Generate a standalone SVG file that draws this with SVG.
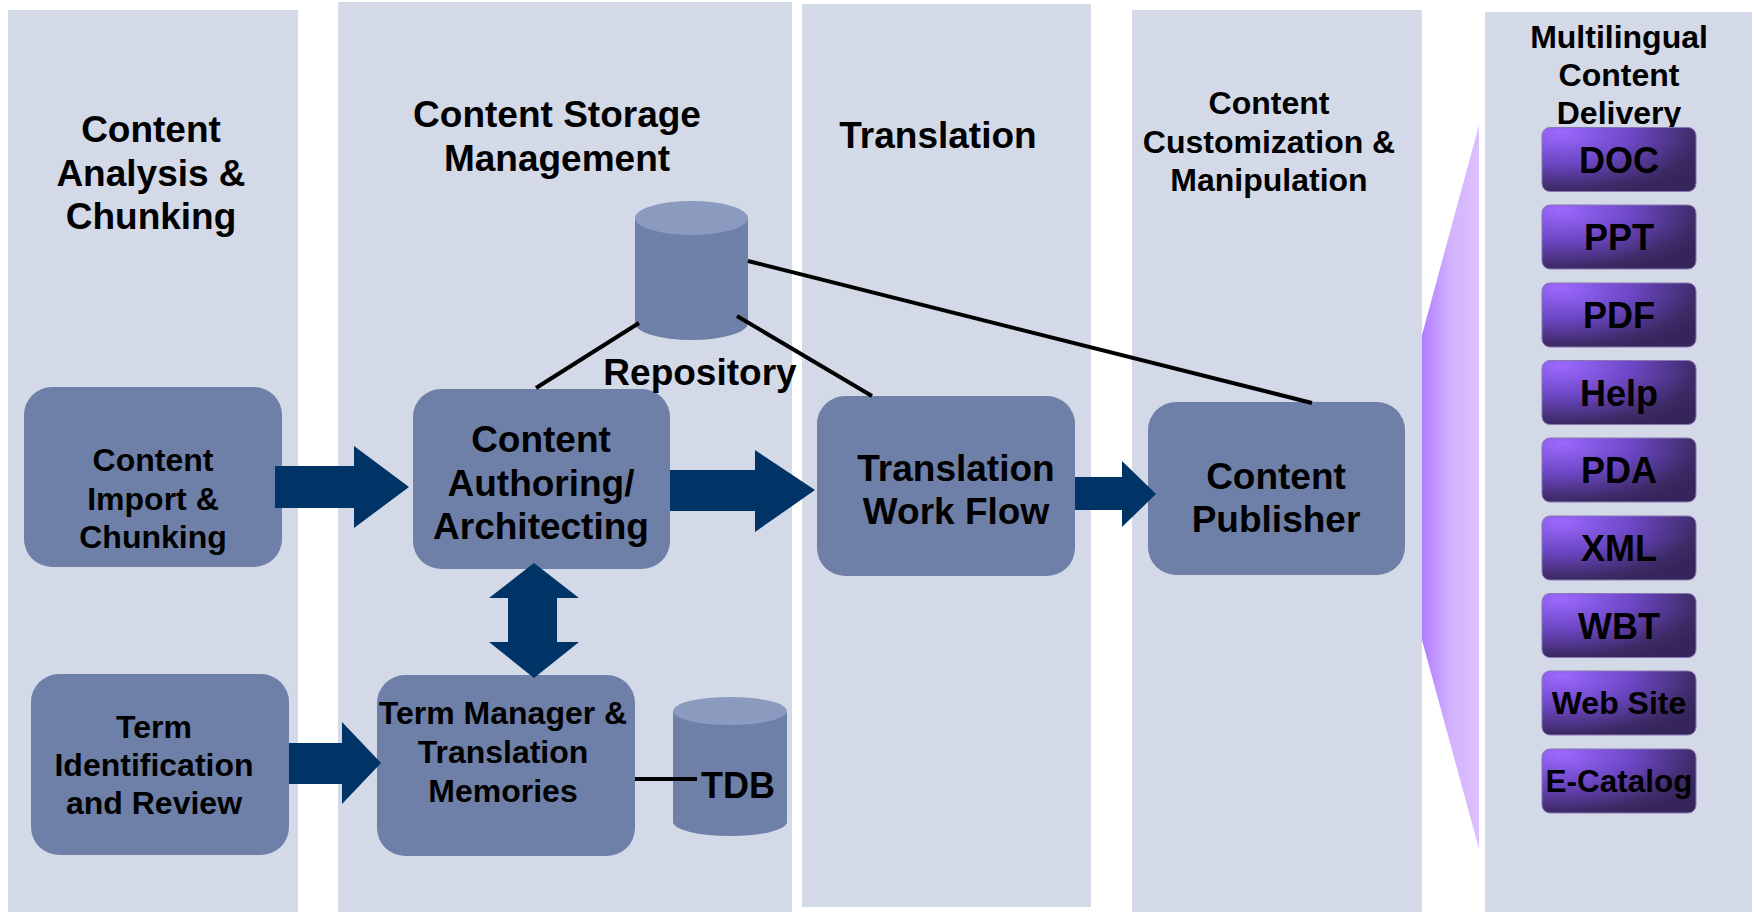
<svg xmlns="http://www.w3.org/2000/svg" width="1754" height="912" viewBox="0 0 1754 912">
  <defs>
    <style>
      .lane { fill: #D3D9E7; }
      .box { fill: #6E80A8; }
      .cap { fill: #8A9BBF; }
      .t { font-family: "Liberation Sans", Arial, sans-serif; font-weight: bold; fill: #000; text-anchor: middle; }
      .f37 { font-size: 37px; }
      .f36 { font-size: 36px; }
      .f32 { font-size: 32px; }
      .blk { fill: #003366; }
      .link { stroke: #000; stroke-width: 4; fill: none; }
      .btn { fill: url(#btnGrad); stroke: #8877B2; stroke-width: 1; }
    </style>
    <linearGradient id="fanGrad" x1="0" y1="0" x2="1" y2="0">
      <stop offset="0" stop-color="#B07AFF"/>
      <stop offset="0.5" stop-color="#D2B2FF"/>
      <stop offset="1" stop-color="#DDC0FF"/>
    </linearGradient>
    <radialGradient id="btnGrad" cx="0.12" cy="0.08" r="1.05" fx="0.12" fy="0.08">
      <stop offset="0" stop-color="#9C69FF"/>
      <stop offset="0.45" stop-color="#6C47C4"/>
      <stop offset="0.85" stop-color="#3D2A66"/>
      <stop offset="1" stop-color="#35255A"/>
    </radialGradient>
  </defs>

  <!-- swimlanes -->
  <g id="lanes">
    <rect class="lane" x="8" y="10" width="290" height="902"/>
    <rect class="lane" x="338" y="2" width="454" height="910"/>
    <rect class="lane" x="802" y="4" width="289" height="903"/>
    <rect class="lane" x="1132" y="10" width="290" height="902"/>
    <rect class="lane" x="1485" y="12" width="267" height="900"/>
  </g>

  <!-- lane titles -->
  <g id="lane-titles">
    <text class="t f37" x="151" y="142">Content</text>
    <text class="t f37" x="151" y="186">Analysis &amp;</text>
    <text class="t f37" x="151" y="229">Chunking</text>

    <text class="t f37" x="557" y="127">Content Storage</text>
    <text class="t f37" x="557" y="171">Management</text>

    <text class="t f37" x="938" y="148">Translation</text>

    <text class="t f32" x="1269" y="114">Content</text>
    <text class="t f32" x="1269" y="153">Customization &amp;</text>
    <text class="t f32" x="1269" y="191">Manipulation</text>

    <text class="t f32" x="1619" y="48">Multilingual</text>
    <text class="t f32" x="1619" y="86">Content</text>
    <text class="t f32" x="1619" y="124">Delivery</text>
  </g>

  <!-- fan widening towards the delivery lane -->
  <polygon id="fan" points="1422,335 1479,125 1479,849 1422,640" fill="url(#fanGrad)"/>

  <!-- process boxes -->
  <g id="node-import">
    <rect class="box" x="24" y="387" width="258" height="180" rx="28"/>
    <text class="t f32" x="153" y="471">Content</text>
    <text class="t f32" x="153" y="510">Import &amp;</text>
    <text class="t f32" x="153" y="548">Chunking</text>
  </g>
  <g id="node-authoring">
    <rect class="box" x="413" y="389" width="257" height="180" rx="28"/>
    <text class="t f37" x="541" y="452">Content</text>
    <text class="t f37" x="541" y="496">Authoring/</text>
    <text class="t f37" x="541" y="539">Architecting</text>
  </g>
  <g id="node-workflow">
    <rect class="box" x="817" y="396" width="258" height="180" rx="28"/>
    <text class="t f37" x="956" y="481">Translation</text>
    <text class="t f37" x="956" y="524">Work Flow</text>
  </g>
  <g id="node-publisher">
    <rect class="box" x="1148" y="402" width="257" height="173" rx="28"/>
    <text class="t f37" x="1276" y="489">Content</text>
    <text class="t f37" x="1276" y="532">Publisher</text>
  </g>
  <g id="node-term-id">
    <rect class="box" x="31" y="674" width="258" height="181" rx="28"/>
    <text class="t f32" x="154" y="738">Term</text>
    <text class="t f32" x="154" y="776">Identification</text>
    <text class="t f32" x="154" y="814">and Review</text>
  </g>
  <g id="node-term-manager">
    <rect class="box" x="377" y="675" width="258" height="181" rx="28"/>
    <text class="t f32" x="503" y="724">Term Manager &amp;</text>
    <text class="t f32" x="503" y="763">Translation</text>
    <text class="t f32" x="503" y="802">Memories</text>
  </g>

  <!-- databases -->
  <g id="node-repository">
    <path class="box" d="M635,218 L635,323 A56.5,17 0 0 0 748,323 L748,218 Z"/>
    <ellipse class="cap" cx="691.5" cy="218" rx="56.5" ry="17"/>
    <text class="t f37" x="700" y="385">Repository</text>
  </g>
  <g id="node-tdb">
    <path class="box" d="M673,711 L673,822 A57,14 0 0 0 787,822 L787,711 Z"/>
    <ellipse class="cap" cx="730" cy="711" rx="57" ry="14"/>
  </g>

  <!-- connectors -->
  <g id="connectors">
    <polygon class="blk" points="275,466 354,466 354,446 409,487 354,528 354,508 275,508"/>
    <polygon class="blk" points="670,470 755,470 755,450 815,490 755,532 755,511 670,511"/>
    <polygon class="blk" points="1075,477 1122,477 1122,461 1156,494 1122,527 1122,510 1075,510"/>
    <polygon class="blk" points="289,743 342,743 342,722 381,763 342,804 342,784 289,784"/>
    <polygon class="blk" points="534,563 579,598 557,598 557,642 579,642 534,678 489,642 508,642 508,598 489,598"/>
    <line class="link" x1="639" y1="323" x2="536" y2="388"/>
    <line class="link" x1="737" y1="316" x2="872" y2="396"/>
    <line class="link" x1="748" y1="261" x2="1312" y2="403"/>
    <line class="link" x1="635" y1="779" x2="697" y2="779"/>
  </g>

  <text class="t f36" x="738" y="798">TDB</text>

  <!-- delivery formats -->
  <g id="formats">
    <g id="fmt-doc">
      <rect class="btn" x="1542" y="127.5" width="154" height="64" rx="8"/>
      <text class="t f36" x="1619" y="172.5">DOC</text>
    </g>
    <g id="fmt-ppt">
      <rect class="btn" x="1542" y="205" width="154" height="64" rx="8"/>
      <text class="t f36" x="1619" y="250">PPT</text>
    </g>
    <g id="fmt-pdf">
      <rect class="btn" x="1542" y="283" width="154" height="64" rx="8"/>
      <text class="t f36" x="1619" y="328">PDF</text>
    </g>
    <g id="fmt-help">
      <rect class="btn" x="1542" y="360.5" width="154" height="64" rx="8"/>
      <text class="t f36" x="1619" y="405.5">Help</text>
    </g>
    <g id="fmt-pda">
      <rect class="btn" x="1542" y="438" width="154" height="64" rx="8"/>
      <text class="t f36" x="1619" y="483">PDA</text>
    </g>
    <g id="fmt-xml">
      <rect class="btn" x="1542" y="516" width="154" height="64" rx="8"/>
      <text class="t f36" x="1619" y="561">XML</text>
    </g>
    <g id="fmt-wbt">
      <rect class="btn" x="1542" y="593.5" width="154" height="64" rx="8"/>
      <text class="t f36" x="1619" y="638.5">WBT</text>
    </g>
    <g id="fmt-web">
      <rect class="btn" x="1542" y="671" width="154" height="64" rx="8"/>
      <text class="t f32" x="1619" y="714">Web Site</text>
    </g>
    <g id="fmt-ecat">
      <rect class="btn" x="1542" y="749" width="154" height="64" rx="8"/>
      <text class="t" style="font-size:31.5px" x="1619" y="792">E-Catalog</text>
    </g>
  </g>
</svg>
